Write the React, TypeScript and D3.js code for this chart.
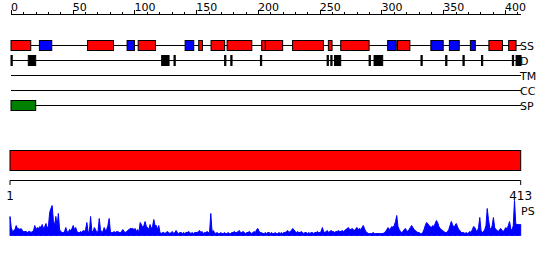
import React from "react";
import * as d3 from "d3";

const SEQ_LEN = 413;
const majorTicks = [0, 50, 100, 150, 200, 250, 300, 350, 400];
const minorStep = 10;
const bottomLabels = [1, 413];
const trackNames = ["SS", "D", "TM", "CC", "SP"];

// secondary structure: [start, end, type] H = helix (red), E = strand (blue)
const ssStart = [1, 24, 63, 95, 104, 142, 153, 163, 176, 204, 207, 229, 258, 268, 306, 314, 341, 356, 373, 388, 404];
const ssEnd = [16, 33, 83, 100, 117, 148, 155, 173, 195, 206, 220, 253, 260, 290, 312, 323, 350, 363, 376, 398, 409];
const ssType = ["H", "E", "H", "E", "H", "E", "H", "H", "H", "H", "H", "H", "H", "H", "E", "H", "E", "E", "E", "H", "H"];

// disorder segments
const disStart = [1, 15, 123, 133, 174, 179, 203, 257, 260, 263, 291, 295, 333, 353, 367, 382, 407, 410];
const disEnd = [1, 20, 128, 133, 174, 179, 203, 257, 260, 267, 291, 301, 333, 353, 367, 382, 407, 413];

// signal peptide
const spStart = [1];
const spEnd = [20];

// domain bar
const domainStart = [1];
const domainEnd = [413];

// per-residue PS profile
const psValues = [
  19, 8, 4, 5, 6, 10, 7, 7, 6, 7,
  5, 4, 4, 4, 3, 4, 4, 3, 4, 5,
  10, 6, 8, 7, 9, 8, 11, 7, 9, 12,
  8, 9, 23, 27, 30, 15, 10, 19, 9, 22,
  6, 4, 3, 3, 4, 8, 4, 3, 6, 5,
  7, 10, 6, 8, 4, 3, 3, 4, 3, 5,
  4, 6, 13, 4, 3, 19, 5, 3, 8, 6,
  3, 4, 17, 6, 3, 4, 8, 5, 6, 10,
  17, 4, 3, 3, 4, 3, 4, 4, 3, 3,
  4, 6, 4, 3, 4, 5, 6, 7, 7, 7,
  6, 7, 4, 6, 3, 13, 11, 8, 10, 14,
  9, 8, 6, 11, 7, 9, 16, 10, 10, 6,
  10, 3, 2, 3, 3, 2, 3, 4, 3, 2,
  3, 4, 2, 3, 5, 3, 2, 3, 3, 2,
  3, 2, 3, 3, 4, 3, 2, 3, 2, 3,
  3, 3, 4, 5, 3, 4, 2, 3, 3, 4,
  3, 3, 22, 4, 5, 3, 2, 3, 2, 2,
  3, 2, 2, 3, 2, 2, 3, 2, 2, 3,
  3, 4, 3, 3, 4, 5, 3, 3, 4, 3,
  2, 3, 3, 4, 3, 2, 3, 4, 3, 6,
  7, 4, 3, 3, 2, 2, 3, 2, 3, 3,
  2, 3, 2, 2, 3, 2, 2, 3, 2, 3,
  2, 3, 3, 4, 5, 3, 4, 5, 7, 6,
  4, 3, 4, 3, 3, 4, 3, 2, 3, 3,
  2, 3, 2, 3, 3, 2, 3, 3, 4, 3,
  3, 4, 8, 4, 3, 4, 5, 3, 4, 5,
  4, 4, 3, 4, 4, 5, 4, 4, 5, 4,
  5, 6, 7, 8, 6, 6, 7, 6, 5, 7,
  8, 6, 7, 6, 8, 10, 7, 4, 3, 2,
  2, 2, 2, 3, 2, 2, 2, 2, 2, 2,
  2, 2, 3, 4, 6, 8, 6, 7, 9, 8,
  10, 14, 20, 9, 6, 4, 3, 4, 6, 7,
  5, 4, 6, 8, 10, 8, 6, 5, 4, 3,
  3, 2, 2, 3, 6, 10, 13, 12, 10, 9,
  8, 10, 9, 12, 15, 13, 9, 7, 6, 5,
  4, 3, 3, 4, 6, 10, 14, 11, 8, 10,
  12, 9, 6, 5, 3, 3, 3, 2, 3, 2,
  3, 4, 3, 6, 9, 8, 5, 4, 8, 18,
  5, 3, 4, 6, 10, 27, 16, 8, 6, 10,
  18, 8, 6, 5, 4, 6, 7, 5, 4, 6,
  8, 6, 10, 14, 7, 5, 10, 35, 12, 11,
  11, 11, 11,
];

const FONT = "DejaVu Sans, sans-serif";

export default function App() {
  const x = d3.scaleLinear().domain([0, SEQ_LEN]).range([11, 521]);
  const xb = d3.scaleLinear().domain([1, SEQ_LEN]).range([10, 520.7]);
  const trackY = d3.scalePoint<string>().domain(trackNames).range([45.5, 105.5]);
  const yPS = d3.scaleLinear().domain([0, 35]).range([235.5, 200.5]);
  const minorTicks = d3.range(0, SEQ_LEN, minorStep);

  const area = d3
    .area<number>()
    .x((_, i) => xb(i + 1))
    .y0(yPS(0))
    .y1((d) => yPS(d))
    .curve(d3.curveLinear);

  const boxH = 10;

  return (
    <svg width={550} height={260} style={{ display: "block", position: "absolute", left: 0, top: 0 }}>
      <rect x={0} y={0} width={550} height={260} fill="#fff" />
      {/* top axis */}
      <line x1={x(0)} x2={x(SEQ_LEN)} y1={14.5} y2={14.5} stroke="#000" />
      {minorTicks.map((t) => (
        <line key={"m" + t} x1={Math.round(x(t)) + 0.5} x2={Math.round(x(t)) + 0.5}
          y1={majorTicks.includes(t) ? 10 : 12} y2={14.5} stroke="#000" />
      ))}
      {majorTicks.map((t) => (
        <text key={"l" + t} x={x(t)} y={11} fontFamily={FONT} fontSize={11} fill="#000">{t}</text>
      ))}

      {/* track lines & labels */}
      {trackNames.map((n) => (
        <g key={n}>
          <line x1={x(0)} x2={x(SEQ_LEN)} y1={trackY(n)} y2={trackY(n)} stroke="#000" />
          <text x={x(SEQ_LEN) - 1} y={(trackY(n) as number) + 4} fontFamily={FONT} fontSize={11} fill="#000">{n}</text>
        </g>
      ))}

      {/* SS */}
      {ssStart.map((s, i) => (
        <rect key={"ss" + i} x={x(s - 1)} width={x(ssEnd[i]) - x(s - 1)}
          y={(trackY("SS") as number) - boxH / 2} height={boxH}
          fill={ssType[i] === "H" ? "#ff0000" : "#0000ff"} stroke="#000" />
      ))}
      {/* Disorder */}
      {disStart.map((s, i) => (
        <rect key={"d" + i} x={x(s - 1)} width={x(disEnd[i]) - x(s - 1)}
          y={(trackY("D") as number) - boxH / 2} height={boxH}
          fill="#000" stroke="#000" />
      ))}
      {/* SP */}
      {spStart.map((s, i) => (
        <rect key={"sp" + i} x={x(s - 1)} width={x(spEnd[i]) - x(s - 1)}
          y={(trackY("SP") as number) - boxH / 2} height={boxH}
          fill="#008000" stroke="#000" />
      ))}

      {/* domain bar */}
      {domainStart.map((s, i) => (
        <rect key={"dom" + i} x={xb(s)} width={xb(domainEnd[i]) - xb(s)} y={150.5} height={20}
          fill="#ff0000" stroke="#000" />
      ))}
      <line x1={xb(1)} x2={xb(SEQ_LEN)} y1={180.5} y2={180.5} stroke="#000" />
      {bottomLabels.map((b) => (
        <g key={"b" + b}>
          <line x1={xb(b)} x2={xb(b)} y1={180.5} y2={185} stroke="#000" />
          <text x={xb(b)} y={200} textAnchor="middle" fontFamily={FONT} fontSize={12} fill="#000">{b}</text>
        </g>
      ))}

      {/* PS profile */}
      <path d={area(psValues) || ""} fill="#0000ff" stroke="#0000ff" strokeWidth={1} />
      <text x={521} y={215} fontFamily={FONT} fontSize={11} fill="#000">PS</text>
    </svg>
  );
}
